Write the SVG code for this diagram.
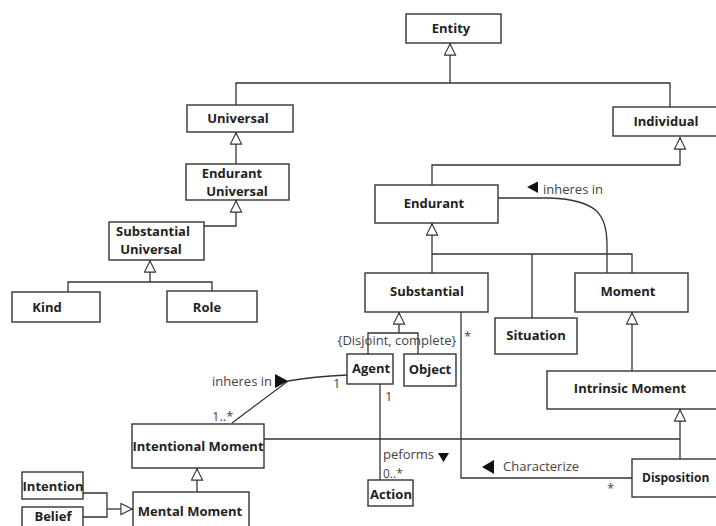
<svg xmlns="http://www.w3.org/2000/svg" width="716" height="526" viewBox="0 0 716 526">
<style>
.box{fill:#fff;stroke:#333;stroke-width:1.4}
.t{font-family:"Open Sans","Noto Sans",sans-serif;font-weight:bold;font-size:13px;fill:#222;text-anchor:middle;dominant-baseline:central}
.c{fill:none;stroke:#333;stroke-width:1.3}
.lb{font-family:"Open Sans","Noto Sans",sans-serif;font-size:13px;fill:#444}
.ar{fill:#111}
</style>
<defs>
<marker id="gen" viewBox="0 0 14 14" refX="14" refY="7" markerWidth="14" markerHeight="13" orient="auto" markerUnits="userSpaceOnUse">
<path d="M1,1 L13,7 L1,13 Z" fill="#fff" stroke="#333" stroke-width="1.2"/>
</marker>
</defs>
<rect width="716" height="526" fill="#fff"/>
<g id="connectors">
<path class="c" d="M236,105 V83 H670 V107"/>
<path class="c" d="M450,83 V43" marker-end="url(#gen)"/>
<path class="c" d="M432,185 V165 H680 V137" marker-end="url(#gen)"/>
<path class="c" d="M236,164 V132" marker-end="url(#gen)"/>
<path class="c" d="M204,226 H236 V200" marker-end="url(#gen)"/>
<path class="c" d="M68,292 V282 H212 V291"/>
<path class="c" d="M150,282 V260" marker-end="url(#gen)"/>
<path class="c" d="M432,273 V223" marker-end="url(#gen)"/>
<path class="c" d="M432,254 H632 V273 M532,254 V318"/>
<path class="c" d="M632,371 V312" marker-end="url(#gen)"/>
<path class="c" d="M680,459 V409" marker-end="url(#gen)"/>
<path class="c" d="M264,439 H680"/>
<path class="c" d="M368,354 V333 H418 V354"/>
<path class="c" d="M399,333 V312" marker-end="url(#gen)"/>
<path class="c" d="M197,492 V468" marker-end="url(#gen)"/>
<path class="c" d="M83,493 H107 V517 H83"/>
<path class="c" d="M107,509 H133" marker-end="url(#gen)"/>
<path class="c" d="M498,198 H550 C598,200 607,215 607,245 V273"/>
<path class="c" d="M632,478 H461 V312"/>
<path class="c" d="M380,384 V480"/>
<path class="c" d="M347,375 C325,376 305,378 288,381 L232,423"/>
<polygon class="ar" points="527,187 538,181.5 538,193"/>
<text class="lb" x="543" y="194">inheres in</text>
<polygon class="ar" points="482,467 494,460 494,474"/>
<text class="lb" x="503" y="471">Characterize</text>
<text class="lb" x="383" y="459">peforms</text>
<polygon class="ar" points="438,453 449,453 443.5,462"/>
<text class="lb" x="383" y="478" style="font-size:12px">0..*</text>
<text class="lb" x="385" y="401">1</text>
<text class="lb" x="333" y="388">1</text>
<polygon class="ar" points="275,374 288,381 275,388"/>
<text class="lb" x="272" y="386" text-anchor="end">inheres in</text>
<text class="lb" x="212" y="421">1..*</text>
<text class="lb" x="464" y="341">*</text>
<text class="lb" x="607" y="493">*</text>
<text class="lb" x="397" y="345" text-anchor="middle">{Disjoint, complete}</text>
</g>
<g id="entity"><rect class="box" x="406" y="14" width="95" height="29"/><text class="t" x="451" y="28">Entity</text></g>
<g id="universal"><rect class="box" x="187" y="105" width="106" height="27"/><text class="t" x="238" y="118">Universal</text></g>
<g id="individual"><rect class="box" x="613" y="107" width="108" height="29"/><text class="t" x="666" y="121">Individual</text></g>
<g id="endurant-universal"><rect class="box" x="186" y="164" width="103" height="36"/><text class="t" x="232" y="173">Endurant</text><text class="t" x="237" y="191">Universal</text></g>
<g id="substantial-universal"><rect class="box" x="109" y="222" width="95" height="38"/><text class="t" x="153" y="231">Substantial</text><text class="t" x="151" y="249">Universal</text></g>
<g id="kind"><rect class="box" x="12" y="292" width="88" height="30"/><text class="t" x="47" y="307">Kind</text></g>
<g id="role"><rect class="box" x="167" y="291" width="90" height="31"/><text class="t" x="207" y="307">Role</text></g>
<g id="endurant"><rect class="box" x="375" y="185" width="123" height="38"/><text class="t" x="434" y="203">Endurant</text></g>
<g id="substantial"><rect class="box" x="365" y="273" width="123" height="39"/><text class="t" x="427" y="291">Substantial</text></g>
<g id="moment"><rect class="box" x="575" y="273" width="113" height="39"/><text class="t" x="628" y="291">Moment</text></g>
<g id="situation"><rect class="box" x="495" y="318" width="82" height="36"/><text class="t" x="536" y="335">Situation</text></g>
<g id="intrinsic-moment"><rect class="box" x="547" y="371" width="175" height="38"/><text class="t" x="630" y="388">Intrinsic Moment</text></g>
<g id="disposition"><rect class="box" x="632" y="459" width="90" height="38"/><text class="t" x="642" y="477" style="text-anchor:start;font-size:12px">Disposition</text></g>
<g id="agent"><rect class="box" x="347" y="354" width="46" height="30"/><text class="t" x="371" y="368">Agent</text></g>
<g id="object"><rect class="box" x="404" y="354" width="52" height="32"/><text class="t" x="430" y="369">Object</text></g>
<g id="action"><rect class="box" x="368" y="480" width="45" height="26"/><text class="t" x="391" y="494">Action</text></g>
<g id="intentional-moment"><rect class="box" x="132" y="424" width="132" height="44"/><text class="t" x="198" y="446">Intentional Moment</text></g>
<g id="mental-moment"><rect class="box" x="133" y="492" width="116" height="40"/><text class="t" x="190" y="511">Mental Moment</text></g>
<g id="intention"><rect class="box" x="22" y="472" width="61" height="27"/><text class="t" x="53" y="486">Intention</text></g>
<g id="belief"><rect class="box" x="22" y="507" width="61" height="25"/><text class="t" x="53" y="516">Belief</text></g>
</svg>
